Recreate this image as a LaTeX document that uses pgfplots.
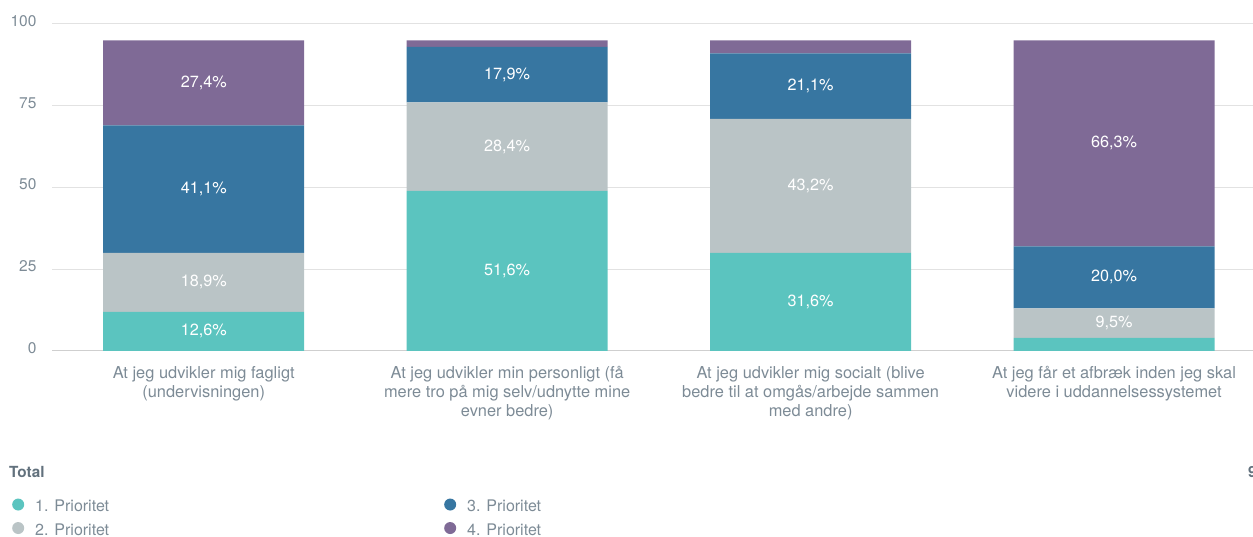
\documentclass[border=0pt]{standalone}
\usepackage{pgfplots}
\pgfplotsset{compat=1.18}
\usepackage{fontspec}
\setmainfont{TeX Gyre Heros}
\definecolor{p1}{HTML}{5BC4BF}
\definecolor{p2}{HTML}{BAC4C6}
\definecolor{p3}{HTML}{3776A1}
\definecolor{p4}{HTML}{7F6A96}
\definecolor{txt}{HTML}{7D8B96}
\definecolor{ttl}{HTML}{62717D}
\definecolor{grd}{HTML}{E2E2E2}
\definecolor{base}{HTML}{CFCFCF}
\begin{document}
\begin{tikzpicture}[x=1bp,y=1bp]
\path[use as bounding box] (0,0) rectangle (1253,537);
\clip (0,0) rectangle (1253,537);
\begin{axis}[
  at={(52bp,186bp)}, anchor=south west,
  scale only axis, width=1201bp, height=327bp,
  xmin=-0.5, xmax=3.458, ymin=0, ymax=100,
  ybar stacked, bar width=201bp,
  axis line style={draw=none},
  major tick length=0pt,
  ytick={25,50,75,100},
  extra y ticks={0},
  extra y tick style={grid style={base, line width=1bp}},
  ymajorgrids, grid style={grd, line width=1bp},
  /pgf/number format/assume math mode=true,
  yticklabel style={anchor=east, xshift=-12bp, yshift=3bp, font=\fontsize{15.5bp}{17bp}\selectfont, text=txt},
  xtick={0,1,2,3},
  xticklabels={{At jeg udvikler mig fagligt\\(undervisningen)},
    {At jeg udvikler min personligt (få\\mere tro på mig selv/udnytte mine\\evner bedre)},
    {At jeg udvikler mig socialt (blive\\bedre til at omgås/arbejde sammen\\med andre)},
    {At jeg får et afbræk inden jeg skal\\videre i uddannelsessystemet}},
  xticklabel style={anchor=north, align=center, inner sep=0pt, yshift=-15bp, font=\fontsize{16.4bp}{19bp}\selectfont, text=txt},
  legend image code/.code={\fill[#1, draw=none] (0bp,3bp) circle (6bp);},
  legend style={draw=none, fill=none, at={(-0.0358,-0.4445)}, anchor=north west,
    legend columns=2, font=\fontsize{16bp}{17bp}\selectfont, text=txt,
    nodes={inner sep=0pt, text height=11bp, text depth=3bp},
    row sep=7.5bp,
    /tikz/every odd column/.append style={column sep=11bp},
    /tikz/every even column/.append style={column sep=335bp}},
  transpose legend,
]
\addplot[fill=p1, draw=none] coordinates {(0,12) (1,49) (2,30) (3,4)};
\addplot[fill=p2, draw=none] coordinates {(0,18) (1,27) (2,41) (3,9)};
\addplot[fill=p3, draw=none] coordinates {(0,39) (1,17) (2,20) (3,19)};
\addplot[fill=p4, draw=none] coordinates {(0,26) (1,2) (2,4) (3,63)};
\legend{1. Prioritet, 2. Prioritet, 3. Prioritet, 4. Prioritet}
\end{axis}
\begin{axis}[
  at={(52bp,186bp)}, anchor=south west,
  scale only axis, width=1201bp, height=327bp,
  xmin=-0.5, xmax=3.458, ymin=0, ymax=100,
  hide axis, clip=false,
]
\addplot[draw=none, only marks, mark=*, mark size=0pt, nodes near coords={\pgfplotspointmeta\%},
  point meta=explicit symbolic,
  every node near coord/.style={anchor=center, text=white, font=\fontsize{16.2bp}{17bp}\selectfont}]
  table[meta=lab] {
x y lab
0 6 12,6
0 21 18,9
0 49.5 41,1
0 82 27,4
1 24.5 51,6
1 62.5 28,4
1 84.5 17,9
2 15 31,6
2 50.5 43,2
2 81 21,1
3 8.5 9,5
3 22.5 20,0
3 63.5 66,3
};
\end{axis}
\node[anchor=west, inner sep=0pt, text=ttl, font=\bfseries\fontsize{15.3bp}{17bp}\selectfont] at (9,65) {Total};
\node[anchor=west, inner sep=0pt, text=ttl, font=\bfseries\fontsize{15.3bp}{17bp}\selectfont] at (1248,65) {95};
\end{tikzpicture}
\end{document}
